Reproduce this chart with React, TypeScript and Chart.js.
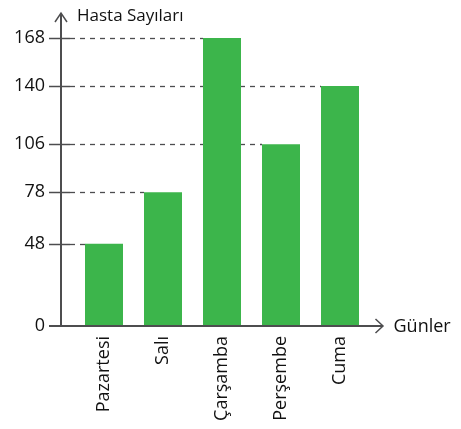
import React, { useEffect, useRef } from "react";
import { Chart, registerables } from "chart.js";

Chart.register(...registerables);

const days = ["Pazartesi", "Salı", "Çarşamba", "Perşembe", "Cuma"];
const patients = [48, 78, 168, 106, 140];
const yTicks = [0, 48, 78, 106, 140, 168];
const yTitle = "Hasta Sayıları";
const xTitle = "Günler";

const FONT = "'Open Sans', 'DejaVu Sans', sans-serif";
const AXIS = "#4d4d4f";
const TEXT = "#111111";

const axesPlugin = {
  id: "axesPlugin",
  beforeDatasetsDraw(chart: any) {
    const { ctx, scales } = chart;
    const y = scales.y;
    const meta = chart.getDatasetMeta(0);
    const axisX = chart.chartArea.left - 13.5;
    ctx.save();
    ctx.strokeStyle = AXIS;
    ctx.lineWidth = 1.3;
    ctx.setLineDash([5, 5]);
    yTicks.forEach((v) => {
      if (v === 0) return;
      const idx = patients.indexOf(v);
      if (idx < 0) return;
      const bar = meta.data[idx];
      const left = bar.x - bar.width / 2;
      const py = Math.round(y.getPixelForValue(v)) + 0.5;
      ctx.beginPath();
      ctx.moveTo(axisX + 9, py);
      ctx.lineTo(left, py);
      ctx.stroke();
    });
    ctx.restore();
  },
  afterDraw(chart: any) {
    const { ctx, scales, chartArea } = chart;
    const y = scales.y;
    const axisX = chartArea.left - 13.5;
    const axisY = y.getPixelForValue(0);
    ctx.save();
    ctx.strokeStyle = AXIS;
    ctx.lineWidth = 2;
    ctx.lineCap = "butt";
    ctx.beginPath();
    ctx.moveTo(axisX, axisY + 1);
    ctx.lineTo(axisX, 13);
    ctx.stroke();
    ctx.lineWidth = 1.5;
    ctx.beginPath();
    ctx.moveTo(axisX - 6, 22);
    ctx.lineTo(axisX, 13);
    ctx.lineTo(axisX + 6, 22);
    ctx.stroke();
    ctx.lineWidth = 2;
    ctx.beginPath();
    ctx.moveTo(axisX - 12, axisY);
    ctx.lineTo(chartArea.right + 13, axisY);
    ctx.stroke();
    ctx.lineWidth = 1.5;
    ctx.beginPath();
    ctx.moveTo(chartArea.right + 6, axisY - 7);
    ctx.lineTo(chartArea.right + 13.5, axisY);
    ctx.lineTo(chartArea.right + 6, axisY + 7);
    ctx.stroke();
    ctx.lineWidth = 1.5;
    yTicks.forEach((v) => {
      if (v === 0) return;
      const py = Math.round(y.getPixelForValue(v)) + 0.5;
      ctx.beginPath();
      ctx.moveTo(axisX - 12, py);
      ctx.lineTo(axisX + 9, py);
      ctx.stroke();
    });
    ctx.fillStyle = TEXT;
    ctx.font = "17px " + FONT;
    ctx.textAlign = "left";
    ctx.textBaseline = "alphabetic";
    ctx.fillText(yTitle, 77, 21);
    ctx.font = "18px " + FONT;
    ctx.textBaseline = "middle";
    ctx.fillText(xTitle, chartArea.right + 24, axisY + 1);
    ctx.restore();
  },
};

export default function App() {
  const ref = useRef<HTMLCanvasElement | null>(null);
  useEffect(() => {
    if (!ref.current) return;
    const chart = new Chart(ref.current, {
      type: "bar",
      data: {
        labels: days,
        datasets: [
          {
            data: patients,
            backgroundColor: "#3cb54b",
            borderWidth: 0,
            barPercentage: 38 / 59,
            categoryPercentage: 1,
          },
        ],
      },
      options: {
        animation: false,
        responsive: false,
        layout: { padding: { left: 0, right: 91.5, top: 38, bottom: 0 } },
        plugins: { legend: { display: false }, tooltip: { enabled: false } },
        scales: {
          x: {
            grid: { display: false, drawTicks: false },
            border: { display: false },
            afterFit: (s: any) => {
              s.height = 103;
              s.paddingLeft = 0;
              s.paddingRight = 0;
            },
            ticks: {
              minRotation: 90,
              maxRotation: 90,
              autoSkip: false,
              padding: 10,
              color: TEXT,
              font: { family: FONT, size: 18 },
            },
          },
          y: {
            min: 0,
            max: 168,
            grid: { display: false, drawTicks: false },
            border: { display: false },
            afterFit: (s: any) => {
              s.width = 74.5;
              s.paddingTop = 0;
              s.paddingBottom = 0;
            },
            afterBuildTicks: (s: any) => {
              s.ticks = yTicks.map((v) => ({ value: v }));
            },
            ticks: {
              padding: 29.5,
              color: TEXT,
              font: { family: FONT, size: 18 },
            },
          },
        },
      },
      plugins: [axesPlugin],
    });
    return () => chart.destroy();
  }, []);
  return (
    <div style={{ position: "absolute", left: 0, top: 0, width: 461, height: 429, background: "#fff" }}>
      <canvas ref={ref} width={461} height={429} style={{ display: "block" }} />
    </div>
  );
}
